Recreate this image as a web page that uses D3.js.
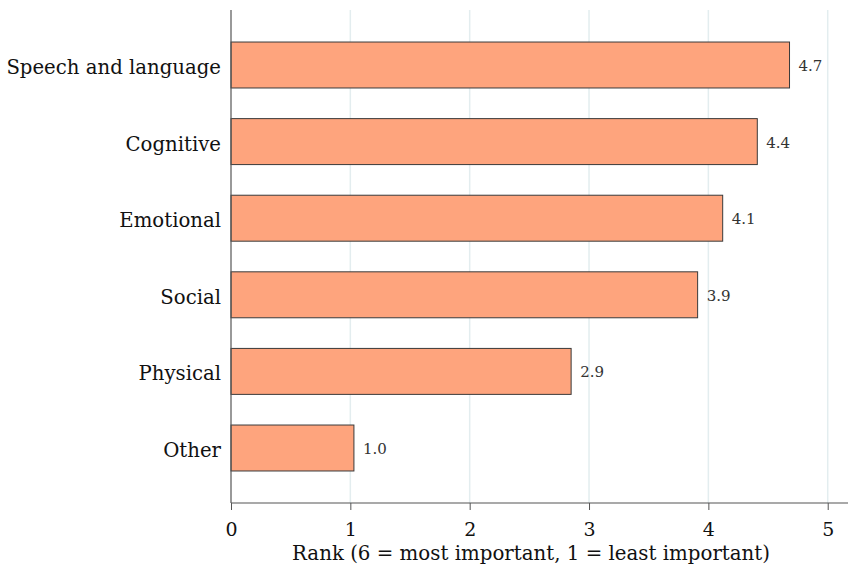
<!DOCTYPE html>
<html><head><meta charset="utf-8">
<script src="https://cdn.jsdelivr.net/npm/d3@7"></script>
<style>body{margin:0;background:#fff}svg{display:block}text{font-family:"DejaVu Serif",serif}</style>
</head><body>
<svg id="c" width="850" height="566"></svg>
<script>
const categories = ["Speech and language","Cognitive","Emotional","Social","Physical","Other"];
const values = [4.68, 4.41, 4.12, 3.91, 2.85, 1.03];
const labels = ["4.7","4.4","4.1","3.9","2.9","1.0"];
const xTicks = [0,1,2,3,4,5];
const axisTitle = "Rank (6 = most important, 1 = least important)";

const svg = d3.select("#c");
const x = d3.scaleLinear().domain([0, 5.17]).range([231, 848]);
const y = d3.scaleBand().domain(categories).range([26.7, 486.3]).paddingInner(0.4).paddingOuter(0.2);
const plotTop = 10, plotBottom = 503;

svg.append("g").selectAll("line").data(xTicks.slice(1)).join("line")
  .attr("x1", d => x(d)).attr("x2", d => x(d)).attr("y1", plotTop).attr("y2", plotBottom)
  .attr("stroke", "#e3edef").attr("stroke-width", 1.5);

svg.append("g").selectAll("rect").data(categories).join("rect")
  .attr("x", x(0)).attr("y", d => y(d)).attr("height", y.bandwidth())
  .attr("width", (d,i) => x(values[i]) - x(0))
  .attr("fill", "#fea47d").attr("stroke", "#3a3a3a").attr("stroke-width", 1);

svg.append("g").selectAll("text").data(categories).join("text")
  .attr("x", (d,i) => x(values[i]) + 9).attr("y", d => y(d) + y.bandwidth()/2 + 6)
  .attr("font-size", 15).attr("fill", "#333").text((d,i) => labels[i]);

svg.append("g").selectAll("text").data(categories).join("text")
  .attr("x", 221).attr("y", d => y(d) + y.bandwidth()/2 + 9)
  .attr("text-anchor", "end").attr("font-size", 19.7).attr("fill", "#111").text(d => d);

svg.append("line").attr("x1", 231).attr("x2", 231).attr("y1", plotTop).attr("y2", plotBottom).attr("stroke", "#555").attr("stroke-width", 1.2);

const xAxis = d3.axisBottom(x).tickValues(xTicks).tickSize(7).tickPadding(13).tickFormat(d3.format("d"));
const gx = svg.append("g").attr("transform", `translate(0,${plotBottom})`).call(xAxis);
gx.select(".domain").attr("d", `M231,0H848`).attr("stroke", "#555").attr("stroke-width", 1.2);
gx.selectAll(".tick line").attr("stroke", "#555");
gx.selectAll(".tick text").attr("font-size", 19).attr("fill", "#111");

svg.append("text").attr("x", 531).attr("y", 560).attr("text-anchor", "middle")
  .attr("font-size", 19.8).attr("fill", "#111").text(axisTitle);
</script>
</body></html>
